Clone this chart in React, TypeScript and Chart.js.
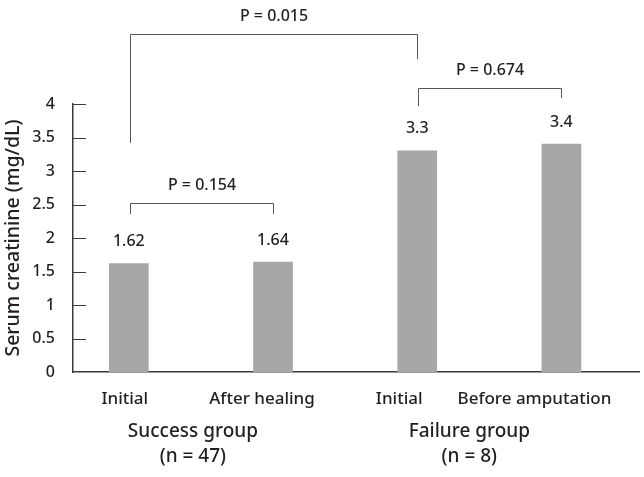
import React, { useEffect, useRef } from "react";
import { Chart, registerables } from "chart.js";

Chart.register(...registerables);

const categories = ["Initial", "After healing", "Initial", "Before amputation"];
const values = [1.62, 1.64, 3.3, 3.4];
const valueLabels = ["1.62", "1.64", "3.3", "3.4"];
const groupNames = ["Success group", "Failure group"];
const groupCounts = ["(n = 47)", "(n = 8)"];
const groupSpans = [[0, 1], [2, 3]];
const yMin = 0;
const yMax = 4;
const yStep = 0.5;
const yTitle = "Serum creatinine (mg/dL)";
// significance brackets: bars joined, bracket level, leg ends (data units), label
const bracketFrom = [0, 2, 0];
const bracketTo = [2, 3, 1];
const bracketLevel = [5.04, 4.24, 2.52];
const bracketLeftEnd = [3.42, 3.97, 2.36];
const bracketRightEnd = [4.67, 4.09, 2.36];
const bracketLabels = ["P = 0.015", "P = 0.674", "P = 0.154"];

const FONT = "'Noto Sans', sans-serif";
const W = "500";
const TEXT = "#231f20";
const catLabelShift = [-4, -11, -18, -27];
const groupLabelShift = [-8, -20];

const annotate = {
  id: "annotate",
  afterDraw(chart: any) {
    const { ctx, chartArea } = chart;
    const xs = chart.scales.x;
    const ys = chart.scales.y;
    ctx.save();
    // inward y ticks
    ctx.strokeStyle = "#3a3a3a";
    ctx.lineWidth = 1;
    ys.ticks.forEach((t: any) => {
      if (t.value === yMin) return;
      const y = Math.round(ys.getPixelForValue(t.value)) + 0.5;
      ctx.beginPath();
      ctx.moveTo(chartArea.left, y);
      ctx.lineTo(chartArea.left + 13, y);
      ctx.stroke();
    });
    // value labels
    ctx.fillStyle = TEXT;
    ctx.textAlign = "center";
    ctx.textBaseline = "middle";
    ctx.font = `${W} 16px ${FONT}`;
    const meta = chart.getDatasetMeta(0);
    meta.data.forEach((el: any, i: number) => {
      ctx.fillText(valueLabels[i], el.x, el.y - 22);
    });
    // brackets
    ctx.strokeStyle = "#555";
    ctx.lineWidth = 1;
    for (let i = 0; i < bracketLabels.length; i++) {
      const x1 = Math.round(xs.getPixelForValue(bracketFrom[i])) + 1.5;
      const x2 = Math.round(xs.getPixelForValue(bracketTo[i])) + 0.5;
      const yl = Math.round(ys.getPixelForValue(bracketLevel[i])) + 0.5;
      const y1 = ys.getPixelForValue(bracketLeftEnd[i]);
      const y2 = ys.getPixelForValue(bracketRightEnd[i]);
      ctx.beginPath();
      ctx.moveTo(x1, y1);
      ctx.lineTo(x1, yl);
      ctx.lineTo(x2, yl);
      ctx.lineTo(x2, y2);
      ctx.stroke();
      ctx.fillText(bracketLabels[i], (x1 + x2) / 2, yl - 18);
    }
    // category labels
    ctx.font = `${W} 17px ${FONT}`;
    categories.forEach((c, i) => {
      ctx.fillText(c, xs.getPixelForValue(i) + catLabelShift[i], chartArea.bottom + 27);
    });
    // group labels
    ctx.font = `${W} 19px ${FONT}`;
    groupNames.forEach((g, i) => {
      const mid = (xs.getPixelForValue(groupSpans[i][0]) + xs.getPixelForValue(groupSpans[i][1])) / 2 + groupLabelShift[i];
      ctx.fillText(g, mid, chartArea.bottom + 60);
      ctx.fillText(groupCounts[i], mid, chartArea.bottom + 85);
    });
    // y title
    ctx.translate(13, (chartArea.top + chartArea.bottom) / 2);
    ctx.rotate(-Math.PI / 2);
    ctx.font = `${W} 19.5px ${FONT}`;
    ctx.fillText(yTitle, 0, 0);
    ctx.restore();
  },
};

export default function App() {
  const ref = useRef<HTMLCanvasElement>(null);
  useEffect(() => {
    const chart = new Chart(ref.current!, {
      type: "bar",
      data: {
        datasets: [
          {
            data: values.map((v, i) => ({ x: i, y: v })),
            backgroundColor: "#a7a7a7",
            barThickness: 39,
          },
        ],
      },
      options: {
        animation: false,
        responsive: true,
        maintainAspectRatio: false,
        layout: { padding: { top: 104, right: 5, left: 0, bottom: 0 } },
        plugins: { legend: { display: false }, tooltip: { enabled: false } },
        scales: {
          x: {
            type: "linear",
            min: -0.387,
            max: 3.538,
            offset: false,
            grid: { display: false, drawTicks: false, offset: false },
            border: { display: true, color: "#3a3a3a", width: 1.5 },
            ticks: { display: false },
            afterFit: (s: any) => {
              s.height = 105;
            },
          },
          y: {
            min: yMin,
            max: yMax,
            grid: { display: false, drawTicks: false },
            border: { display: true, color: "#3a3a3a", width: 1.5 },
            ticks: {
              stepSize: yStep,
              padding: 18,
              color: TEXT,
              font: { family: FONT, size: 16, weight: W },
              callback: (v: any) => String(Number(v)),
            },
            afterFit: (s: any) => {
              s.width = 73;
            },
          },
        },
      },
      plugins: [annotate],
    });
    return () => chart.destroy();
  }, []);
  return (
    <div style={{ position: "fixed", left: 0, top: 0, width: 644, height: 477, background: "#fff" }}>
      <canvas ref={ref} />
    </div>
  );
}
